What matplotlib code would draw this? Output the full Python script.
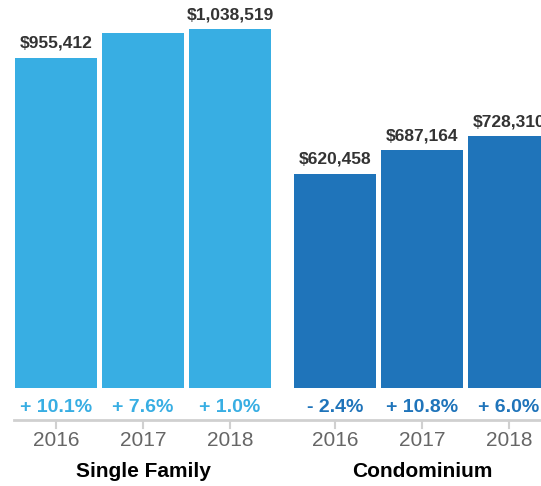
import matplotlib.pyplot as plt

plt.rcParams['font.family'] = ['Liberation Sans', 'DejaVu Sans']

groups = ['Single Family', 'Condominium']
years = ['2016', '2017', '2018']
single_family = [955412, 1028023, 1038519]
condo = [620458, 687164, 728310]
# the 2017 single family label is hidden in the original
sf_labels = ['$955,412', '', '$1,038,519']
condo_labels = ['$620,458', '$687,164', '$728,310']
sf_change = ['+ 10.1%', '+ 7.6%', '+ 1.0%']
condo_change = ['- 2.4%', '+ 10.8%', '+ 6.0%']

LIGHT = '#38aee3'
DARK = '#1f74ba'

W, H = 541, 486
PX_VAL = 2893.0  # value per pixel
BASE = 98        # baseline px from bottom

fig = plt.figure(figsize=(W / 100, H / 100), dpi=100)
ax = fig.add_axes([0, 0, 1, 1])
ax.set_xlim(0, W)
ax.set_ylim(-BASE * PX_VAL, (H - BASE) * PX_VAL)
ax.axis('off')


def py(y_px):
    # pixel row from top -> data y
    return (H - y_px - BASE) * PX_VAL


step = 87
first = 56
gap = 18
bar_w = 82

values = single_family + condo
labels = sf_labels + condo_labels
changes = sf_change + condo_change
colors = [LIGHT] * 3 + [DARK] * 3
xs = [first + step * i + (gap if i >= 3 else 0) for i in range(6)]

ax.bar(xs, values, width=bar_w, color=colors, clip_on=False)

for x, v, lab, c, col in zip(xs, values, labels, changes, colors):
    if lab:
        ax.annotate(lab, (x, v), xytext=(0, 5), textcoords='offset points',
                    ha='center', va='bottom', fontsize=12.5, fontweight='bold',
                    color='#333333')
    ax.text(x, py(407), c, ha='center', va='center', fontsize=14,
            fontweight='bold', color=col)

# axis line and ticks
ax.plot([14, W], [py(420), py(420)], color='#d0d0d0', lw=2, clip_on=False)
for i, x in enumerate(xs):
    ax.plot([x, x], [py(421), py(428)], color='#d0d0d0', lw=1.5)
    ax.text(x, py(440), years[i % 3], ha='center', va='center',
            fontsize=15, color='#666666')

for g, i in zip(groups, [1, 4]):
    ax.text(xs[i], py(471), g, ha='center', va='center', fontsize=15,
            fontweight='bold', color='black')

fig.savefig('out.png', dpi=100)
